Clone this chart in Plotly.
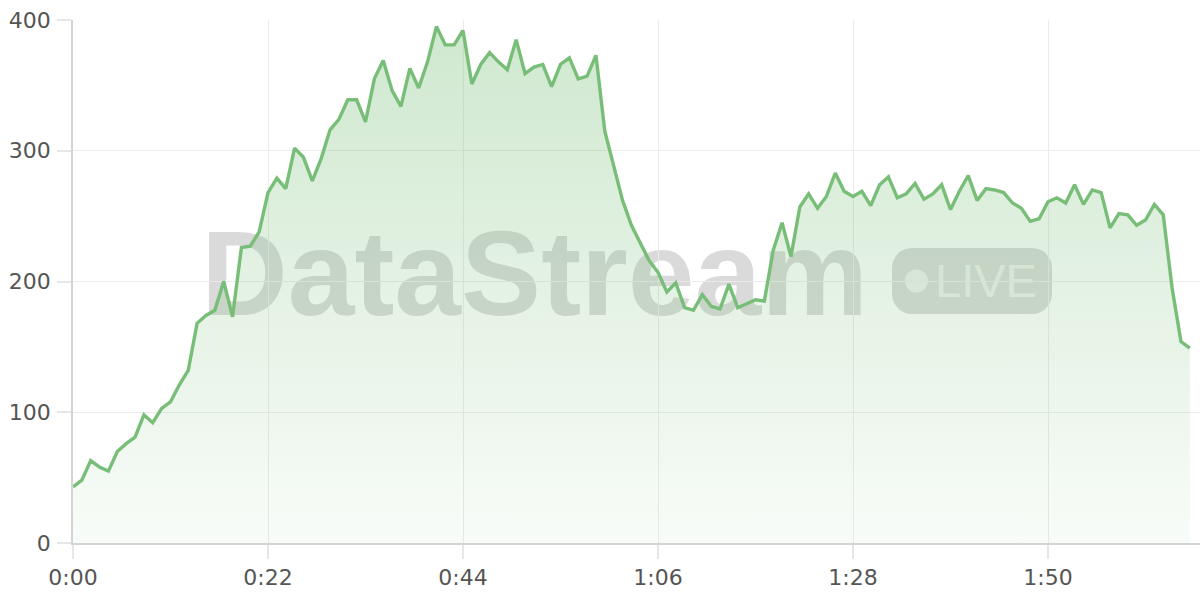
import base64
import plotly.graph_objects as go

# ---- data (seconds, value) ----
seconds = list(range(127))
values = [
    43, 48, 63, 58, 55, 70, 76, 81, 98, 92,
    103, 108, 121, 132, 168, 174, 178, 200, 173, 226,
    227, 238, 268, 279, 271, 302, 295, 277, 294, 316,
    324, 339, 339, 322, 355, 369, 346, 334, 363, 348,
    368, 395, 381, 381, 392, 351, 366, 375, 368, 362,
    385, 359, 364, 366, 349, 366, 371, 355, 357, 373,
    315, 288, 262, 243, 229, 216, 207, 192, 199, 180,
    178, 190, 181, 179, 198, 180, 183, 186, 185, 224,
    245, 219, 257, 267, 256, 265, 283, 269, 265, 269,
    258, 274, 280, 264, 267, 275, 263, 267, 274, 255,
    269, 281, 262, 271, 270, 268, 260, 256, 246, 248,
    261, 264, 260, 274, 259, 270, 268, 241, 252, 251,
    243, 247, 259, 251, 195, 154, 149,
]
x_tick_vals = [0, 22, 44, 66, 88, 110]
x_tick_text = ["0:00", "0:22", "0:44", "1:06", "1:28", "1:50"]
y_tick_vals = [0, 100, 200, 300, 400]

W, H = 1200, 600
ML, MR, MT, MB = 73, 0, 20, 57
PW, PH = W - ML - MR, H - MT - MB

# ---- watermark as an SVG image placed under the data ----
wm_x0, wm_y0, wm_w, wm_h = 200, 220, 860, 100
svg = f'''<svg xmlns="http://www.w3.org/2000/svg" width="{wm_w}" height="{wm_h}" viewBox="0 0 {wm_w} {wm_h}">
<text x="1" y="95" font-family="Liberation Sans, Arial, Helvetica, sans-serif" font-weight="bold" font-size="120" fill="#787878" fill-opacity="0.27">DataStream</text>
<rect x="692" y="28" width="160" height="66" rx="20" ry="20" fill="#787878" fill-opacity="0.27"/>
<circle cx="716.5" cy="61" r="11.5" fill="#ffffff" fill-opacity="0.6"/>
<text x="735" y="77" font-family="Liberation Sans, Arial, Helvetica, sans-serif" font-size="47" fill="#ffffff" fill-opacity="0.6">LIVE</text>
</svg>'''
svg_uri = "data:image/svg+xml;base64," + base64.b64encode(svg.encode()).decode()

fig = go.Figure()
fig.add_trace(go.Scatter(
    x=seconds, y=values, mode="lines",
    line=dict(color="rgb(120,190,120)", width=3.4),
    fill="tozeroy",
    fillgradient=dict(
        type="vertical",
        colorscale=[[0, "rgba(120,190,120,0.05)"], [1, "rgba(120,190,120,0.36)"]],
        start=0, stop=400,
    ),
    hoverinfo="skip",
    showlegend=False,
))

fig.update_layout(
    width=W, height=H,
    margin=dict(l=ML, r=MR, t=MT, b=MB),
    paper_bgcolor="white",
    plot_bgcolor="rgba(0,0,0,0)",
    font=dict(family="DejaVu Sans", size=22, color="#555555"),
    images=[dict(
        source=svg_uri, xref="paper", yref="paper",
        x=(wm_x0 - ML) / PW, y=(H - MB - wm_y0) / PH,
        sizex=wm_w / PW, sizey=wm_h / PH,
        xanchor="left", yanchor="top", sizing="stretch", layer="below",
    )],
    xaxis=dict(
        range=[0, PW / (195 / 22)],
        tickvals=x_tick_vals, ticktext=x_tick_text,
        showgrid=True, gridcolor="#ebebeb", gridwidth=1,
        showline=True, linecolor="#d4d4d4", linewidth=1.5,
        ticks="outside", ticklen=14, tickcolor="#e6e6e6", tickwidth=1.5,
        zeroline=False, fixedrange=True,
    ),
    yaxis=dict(
        range=[0, 400],
        tickvals=y_tick_vals,
        showgrid=True, gridcolor="#ebebeb", gridwidth=1,
        showline=True, linecolor="#d4d4d4", linewidth=1.5,
        ticks="outside", ticklen=14, tickcolor="#e6e6e6", tickwidth=1.5,
        ticklabelstandoff=2,
        zeroline=False, fixedrange=True,
    ),
)

fig.write_html(
    "out.html",
    config={"displayModeBar": False},
    post_script="document.body.style.margin='0';document.body.style.overflow='hidden';",
)
